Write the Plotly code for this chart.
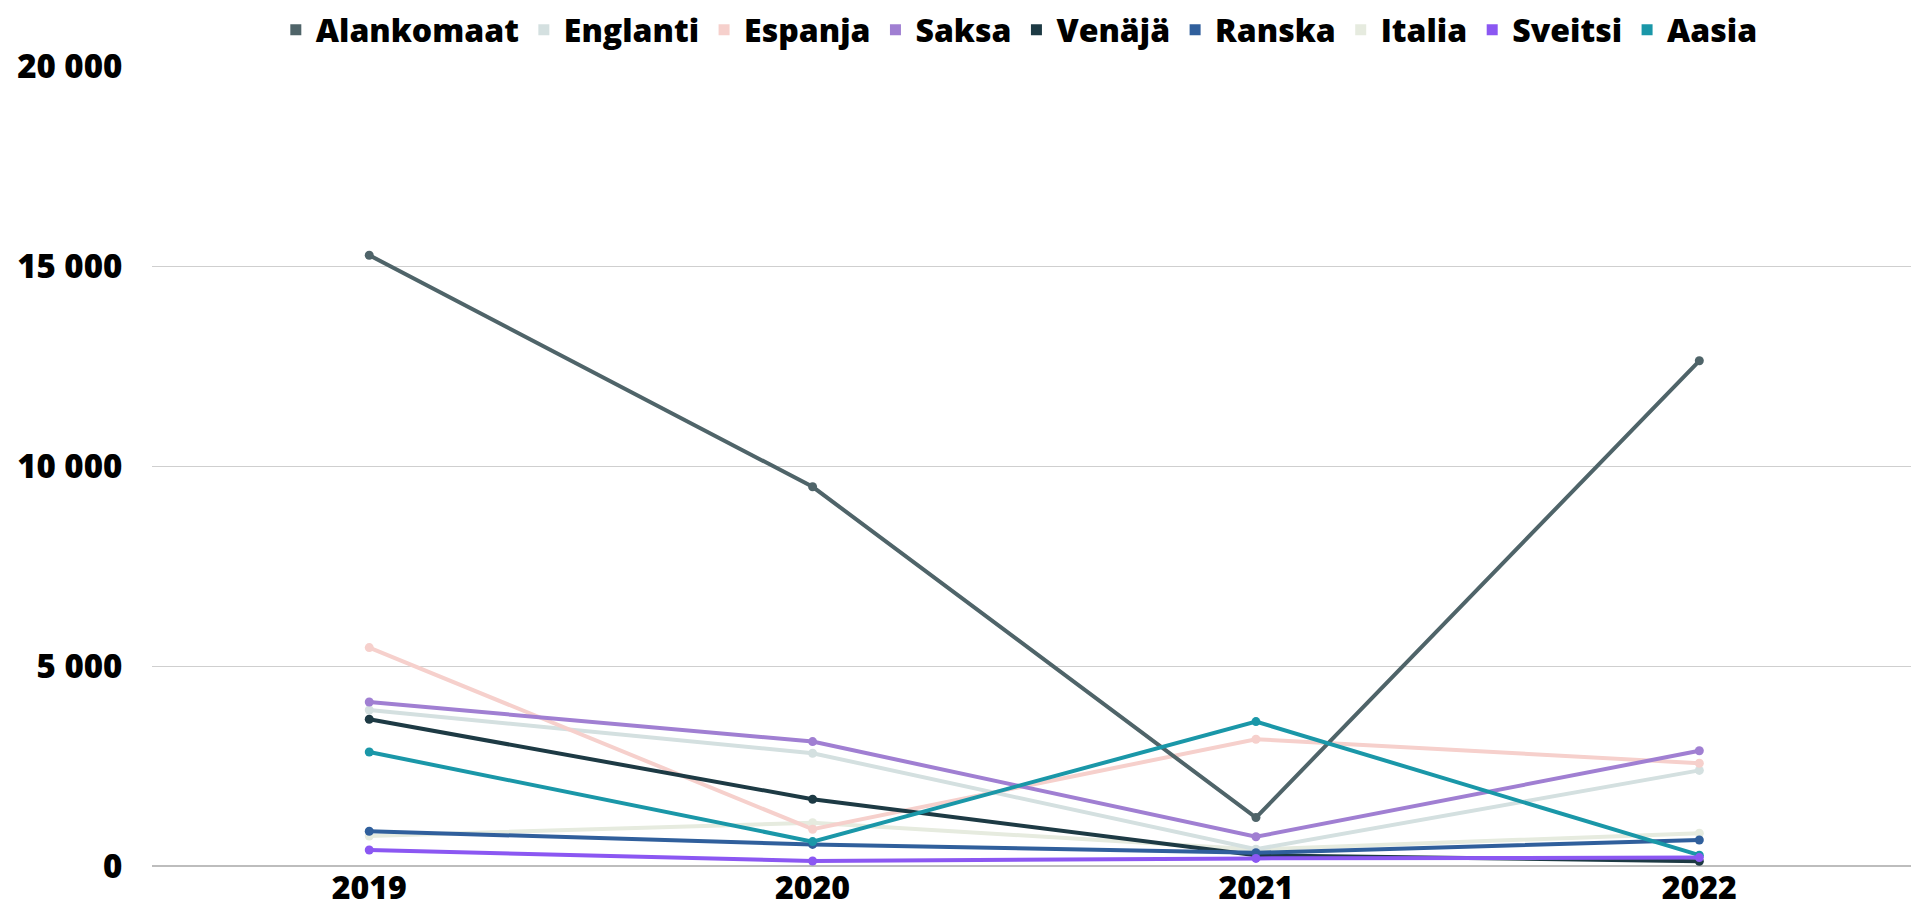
import plotly.graph_objects as go

years = ["2019", "2020", "2021", "2022"]
series_names = ["Alankomaat", "Englanti", "Espanja", "Saksa", "Venäjä", "Ranska", "Italia", "Sveitsi", "Aasia"]
alankomaat = [15270, 9480, 1210, 12630]
englanti = [3900, 2820, 420, 2390]
espanja = [5460, 920, 3170, 2570]
saksa = [4100, 3110, 730, 2880]
venaja = [3670, 1670, 270, 120]
ranska = [870, 540, 330, 650]
italia = [750, 1080, 410, 820]
sveitsi = [400, 125, 190, 210]
aasia = [2850, 610, 3610, 270]
series_values = [alankomaat, englanti, espanja, saksa, venaja, ranska, italia, sveitsi, aasia]
colors = ["#4f6469", "#d4e0e0", "#f6d0cc", "#a07fd2", "#1d3a44", "#305f9c", "#e6ebdf", "#8b57f2", "#1a97a8"]
y_ticks = [0, 5000, 10000, 15000, 20000]

fig = go.Figure()
order = [6, 1, 2, 0, 3, 4, 5, 8, 7]
for i in order:
    fig.add_trace(go.Scatter(
        x=years, y=series_values[i], mode="lines+markers",
        line=dict(color=colors[i], width=4),
        marker=dict(color=colors[i], size=9),
        showlegend=False, name=series_names[i], hoverinfo="x+y+name",
    ))
for i, n in enumerate(series_names):
    fig.add_trace(go.Scatter(
        x=[None], y=[None], mode="markers", name=n,
        marker=dict(symbol="square", color=colors[i], size=11),
        showlegend=True,
    ))

fig.update_layout(
    width=1919, height=916,
    paper_bgcolor="white", plot_bgcolor="white",
    margin=dict(l=144, r=6, t=58, b=58),
    separators=", ",
    font=dict(family="Open Sans", color="#000000"),
    legend=dict(
        orientation="h", xref="container", yref="container",
        x=0.527, xanchor="center", y=0.976, yanchor="middle",
        font=dict(size=32, family="Open Sans", weight=800, color="#000"),
        itemwidth=30, traceorder="normal",
    ),
    xaxis=dict(
        type="category", range=[-0.49, 3.5],
        showgrid=False, showline=False, zeroline=False,
        tickfont=dict(size=32, family="Open Sans", weight=800, color="#000"),
        ticks="", ticklen=0,
        automargin=False,
    ),
    yaxis=dict(
        range=[0, 20000], tickvals=y_ticks, tickformat=",d",
        showgrid=True, gridcolor="#cfcfcf", gridwidth=1,
        zeroline=True, zerolinecolor="#bdbdbd", zerolinewidth=2,
        showline=False,
        tickfont=dict(size=33, family="Open Sans", weight=800, color="#000"),
        ticks="outside", ticklen=22, tickcolor="rgba(0,0,0,0)",
        automargin=False,
    ),
)

fig.write_html("out.html")
